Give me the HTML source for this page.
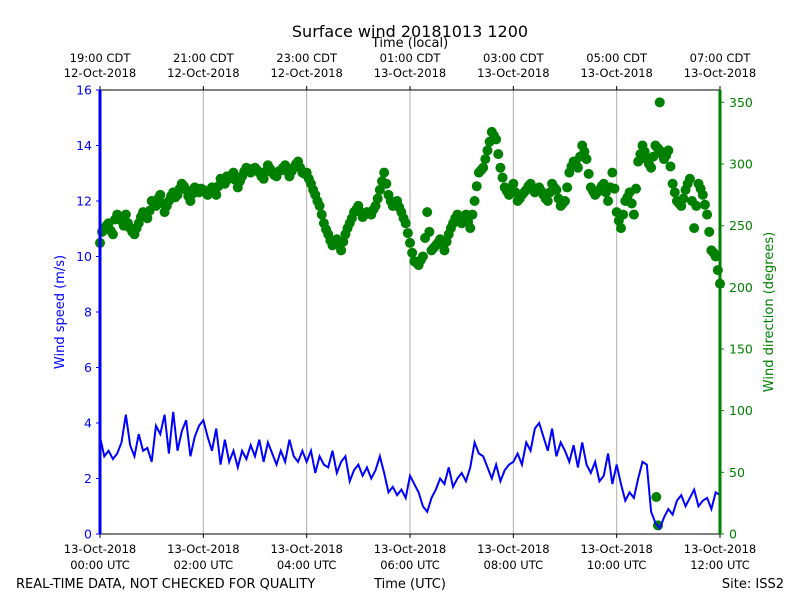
<!DOCTYPE html>
<html><head><meta charset="utf-8"><style>
body{margin:0;background:#fff}
svg{display:block;font-family:"DejaVu Sans","Liberation Sans",sans-serif}
</style></head><body>
<svg id="c" width="800" height="600" viewBox="0 0 800 600">
<text x="410" y="37" font-size="16" text-anchor="middle">Surface wind 20181013 1200</text>
<text x="410" y="47" font-size="13" text-anchor="middle">Time (local)</text>
<text x="410" y="588" font-size="13" text-anchor="middle">Time (UTC)</text>
<text x="16" y="588" font-size="13">REAL-TIME DATA, NOT CHECKED FOR QUALITY</text>
<text x="784" y="588" font-size="13" text-anchor="end">Site: ISS2</text>
<text transform="translate(64,312) rotate(-90)" font-size="13" fill="#0000ff" text-anchor="middle">Wind speed (m/s)</text>
<text transform="translate(773,312) rotate(-90)" font-size="13" fill="#008000" text-anchor="middle">Wind direction (degrees)</text>
<g id="grid"></g><g id="marks"></g><g id="axes"></g>
</svg>
<script>
const speed=[3.5,2.8,3.0,2.7,2.9,3.3,4.3,3.2,2.8,3.6,3.0,3.1,2.6,3.9,3.6,4.3,2.9,4.4,3.0,3.7,4.1,2.8,3.5,3.9,4.1,3.5,3.0,3.8,2.5,3.4,2.6,3.0,2.4,3.0,2.7,3.2,2.8,3.4,2.6,3.3,2.9,2.5,3.0,2.6,3.4,2.8,2.6,3.0,2.6,3.0,2.2,2.8,2.5,2.4,3.0,2.2,2.6,2.8,1.9,2.3,2.5,2.1,2.4,2.0,2.3,2.8,2.2,1.5,1.7,1.4,1.6,1.3,2.1,1.8,1.5,1.0,0.8,1.3,1.6,2.0,1.8,2.4,1.7,2.0,2.2,1.9,2.4,3.3,2.9,2.8,2.4,2.0,2.5,1.9,2.3,2.5,2.6,2.9,2.5,3.3,3.0,3.8,4.0,3.5,3.0,3.8,2.8,3.3,3.0,2.6,3.2,2.4,3.3,2.5,2.2,2.6,1.9,2.1,2.9,1.8,2.5,1.8,1.2,1.5,1.3,2.0,2.6,2.5,0.8,0.4,0.2,0.6,0.9,0.7,1.2,1.4,1.0,1.3,1.6,1.0,1.2,1.3,0.9,1.5,1.4];
const direction=[236,248,252,243,259,254,259,248,243,252,261,256,270,266,275,261,270,277,275,284,279,270,281,277,279,275,281,275,288,284,288,293,281,290,297,293,297,293,288,299,293,290,295,299,290,297,302,293,293,284,275,266,252,243,234,239,230,243,252,261,266,257,261,259,266,279,293,275,266,270,261,252,236,221,218,225,261,230,234,239,230,243,252,259,252,259,248,270,293,297,311,326,320,297,281,275,284,270,275,279,284,277,281,275,270,284,279,266,270,293,302,297,315,304,281,275,279,284,270,293,261,248,270,277,259,302,315,304,297,315,311,304,311,284,270,266,279,288,248,284,275,259,230,225,203];
const directionMid=[245,250,246,255,257,250,252,245,248,257,258,262,268,272,268,266,274,273,280,282,274,276,279,280,277,278,278,282,286,290,291,287,286,294,295,296,295,290,294,296,291,294,297,294,294,300,297,292,288,279,270,259,247,238,236,234,237,248,256,263,261,259,260,263,272,286,284,270,268,265,256,244,228,220,222,240,245,232,236,235,237,248,256,255,256,253,259,282,295,304,318,323,308,289,278,280,277,272,277,282,280,279,278,272,277,281,272,268,281,298,300,306,310,292,278,277,282,277,281,280,254,259,273,268,280,308,310,300,306,313,308,307,298,277,268,272,284,270,266,280,267,245,228,214];
const outlierMinutes=[646,648,650];
const outlierDirection=[30,7,350];
const stepMinutes=5;
const speedTicks=[0,2,4,6,8,10,12,14,16];
const dirTicks=[0,50,100,150,200,250,300,350];
const utcLabels=[["13-Oct-2018","00:00 UTC"],["13-Oct-2018","02:00 UTC"],["13-Oct-2018","04:00 UTC"],["13-Oct-2018","06:00 UTC"],["13-Oct-2018","08:00 UTC"],["13-Oct-2018","10:00 UTC"],["13-Oct-2018","12:00 UTC"]];
const localLabels=[["19:00 CDT","12-Oct-2018"],["21:00 CDT","12-Oct-2018"],["23:00 CDT","12-Oct-2018"],["01:00 CDT","13-Oct-2018"],["03:00 CDT","13-Oct-2018"],["05:00 CDT","13-Oct-2018"],["07:00 CDT","13-Oct-2018"]];
const X0=100,X1=720,Y0=534,Y1=90,NS="http://www.w3.org/2000/svg";
const xs=m=>X0+(X1-X0)*m/720, ys=v=>Y0-(Y0-Y1)*v/16, yd=d=>Y0-(Y0-Y1)*d/360;
function mk(t,a,p){const e=document.createElementNS(NS,t);for(const k in a)e.setAttribute(k,a[k]);p.appendChild(e);return e;}
const G=document.getElementById('grid'),M=document.getElementById('marks'),A=document.getElementById('axes');
utcLabels.forEach((l,i)=>{const x=xs(i*120);
 if(i>0&&i<6){const g=mk('line',{x1:x,x2:x,y1:Y1,y2:Y0,stroke:'#b0b0b0','stroke-width':1},G);}
 mk('line',{x1:x,x2:x,y1:Y0,y2:Y0+4,stroke:'#000'},A);mk('line',{x1:x,x2:x,y1:Y1,y2:Y1-4,stroke:'#000'},A);
 const t=mk('text',{x:x,y:553,'font-size':11.5,'text-anchor':'middle'},A);t.textContent=l[0];
 const t2=mk('text',{x:x,y:569,'font-size':11.5,'text-anchor':'middle'},A);t2.textContent=l[1];
 const u=mk('text',{x:x,y:62,'font-size':11.5,'text-anchor':'middle'},A);u.textContent=localLabels[i][0];
 const u2=mk('text',{x:x,y:77,'font-size':11.5,'text-anchor':'middle'},A);u2.textContent=localLabels[i][1];
});
direction.forEach((d,i)=>{const c=mk('circle',{cx:xs(i*stepMinutes),cy:yd(d),r:5,fill:'#008000'},M);});
directionMid.forEach((d,i)=>{const c=mk('circle',{cx:xs(i*stepMinutes+stepMinutes/2),cy:yd(d),r:5,fill:'#008000'},M);});
outlierDirection.forEach((d,i)=>{const c=mk('circle',{cx:xs(outlierMinutes[i]),cy:yd(d),r:5,fill:'#008000'},M);});
const p=mk('polyline',{points:speed.map((v,i)=>xs(i*stepMinutes)+','+ys(v)).join(' '),fill:'none',stroke:'#0000ff','stroke-width':2},M);

const fr=mk('rect',{x:X0,y:Y1,width:X1-X0,height:Y0-Y1,fill:'none',stroke:'#000'},A);
mk('line',{x1:X0,x2:X0,y1:Y1,y2:Y0,stroke:'#0000ff','stroke-width':3},A);
mk('line',{x1:X1,x2:X1,y1:Y1,y2:Y0,stroke:'#008000','stroke-width':3},A);
speedTicks.forEach(v=>{const y=ys(v);mk('line',{x1:X0-4,x2:X0,y1:y,y2:y,stroke:'#0000ff'},A);
 const t=mk('text',{x:X0-8,y:y+4.5,'font-size':12.5,fill:'#0000ff','text-anchor':'end'},A);t.textContent=v;});
dirTicks.forEach(v=>{const y=yd(v);mk('line',{x1:X1,x2:X1+4,y1:y,y2:y,stroke:'#008000'},A);
 const t=mk('text',{x:X1+9,y:y+4.5,'font-size':12.5,fill:'#008000'},A);t.textContent=v;});
</script>
</body></html>
